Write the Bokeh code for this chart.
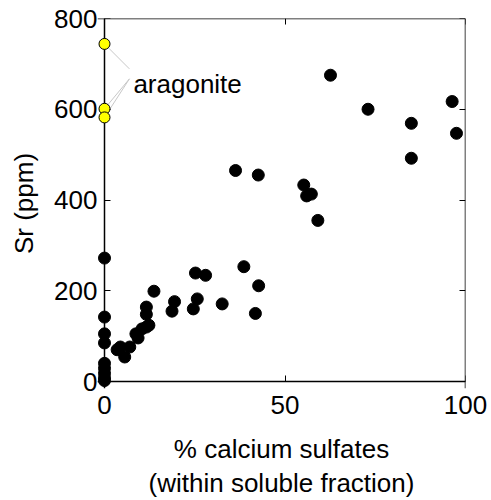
from bokeh.plotting import figure
from bokeh.models import Range1d, LinearAxis, FixedTicker
from bokeh.core.properties import value
from bokeh.embed import file_html
from bokeh.resources import INLINE

# data
sulfate_pct = [0, 0, 0, 0, 0, 0, 0, 0, 0,
               3.5, 4.4, 5.6, 7.0, 8.7, 9.3, 10.4, 11.6, 12.3, 11.6, 11.6, 13.7,
               18.7, 19.4, 24.6, 25.7, 25.2, 28.0, 32.6, 38.6, 41.8, 42.7,
               36.3, 42.6, 55.2, 56.0, 57.3, 59.1, 62.6, 73.0, 85.0, 85.0, 96.3, 97.5]
sr_ppm = [272, 142, 105, 85, 40, 29, 18, 8, 2,
          70, 76, 54, 76, 105, 96, 116, 120, 124, 164, 148, 199,
          155, 176, 160, 182, 239, 234, 171, 253, 150, 211,
          465, 455, 433, 409, 413, 355, 675, 600, 569, 492, 617, 547]
aragonite_pct = [0, 0, 0]
aragonite_sr = [744, 601, 582]
x_ticks = [0, 50, 100]
y_ticks = [0, 200, 400, 600, 800]
x_lo, x_hi = 0, 100
y_lo, y_hi = 0, 800
label_text = "aragonite"

# layout / style constants
BOX_W, BOX_H = 361, 363          # axes box in px
PAD = 7                          # extra frame room so markers on the axes are not clipped
LABEL_X, LABEL_Y = 8.0, 656
LEAD_X = 6.9
LEAD_Y_TOP, LEAD_Y_BOT = 689, 667

FONT = "Liberation Sans"
FS = "26px"

x_start = x_lo - PAD * (x_hi - x_lo) / BOX_W
y_start = y_lo - PAD * (y_hi - y_lo) / BOX_H

p = figure(frame_width=BOX_W + PAD, frame_height=BOX_H + PAD,
           output_backend="svg", toolbar_location=None,
           x_range=Range1d(x_start, x_hi), y_range=Range1d(y_start, y_hi),
           min_border_left=104 - PAD, min_border_right=26, min_border_top=18,
           min_border_bottom=500 - 18 - BOX_H - PAD,
           background_fill_color="white", border_fill_color="white")
p.grid.visible = False
p.outline_line_color = None


def tick_setup(ax, ticks):
    ax.ticker = FixedTicker(ticks=ticks)
    ax.minor_tick_line_color = None
    ax.major_label_text_font = FONT


def box_axis(ax, ticks):
    """Axis that draws the box edge and inward ticks, with no labels."""
    tick_setup(ax, ticks)
    ax.major_tick_in = 6
    ax.major_tick_out = 0
    ax.axis_line_color = "black"
    ax.axis_line_width = 1.5
    ax.major_tick_line_color = "black"
    ax.major_label_text_font_size = "2px"
    ax.major_label_text_color = None
    ax.major_label_standoff = 0


# default axes: only the tick labels and axis titles
xa = p.xaxis[0]
ya = p.yaxis[0]
for ax, ticks in ((xa, x_ticks), (ya, y_ticks)):
    tick_setup(ax, ticks)
    ax.axis_line_color = None
    ax.major_tick_line_color = None
    ax.major_tick_in = 0
    ax.major_tick_out = 0
    ax.major_label_text_font_size = FS
    ax.major_label_text_color = "black"
    ax.axis_label_text_font = FONT
    ax.axis_label_text_font_size = FS
    ax.axis_label_text_font_style = "normal"
    ax.axis_label_text_color = "black"
xa.major_label_standoff = 7
ya.major_label_standoff = 0
xa.axis_label = "% calcium sulfates\n(within soluble fraction)"
ya.axis_label = "Sr (ppm)"
xa.axis_label_text_line_height = 1.15
xa.axis_label_standoff = 17
ya.axis_label_standoff = 12

# box edges with inward ticks
left_box = LinearAxis(fixed_location=x_lo)
bottom_box = LinearAxis(fixed_location=y_lo)
top_box = LinearAxis(fixed_location=y_hi)
right_box = LinearAxis(fixed_location=x_hi)
box_axis(left_box, y_ticks)
box_axis(right_box, y_ticks)
box_axis(bottom_box, x_ticks)
box_axis(top_box, x_ticks)
p.add_layout(left_box, "left")
p.add_layout(bottom_box, "below")
p.add_layout(top_box, "above")
p.add_layout(right_box, "right")

# leader lines from the label to the aragonite points
lead_x0 = [LEAD_X] * len(aragonite_sr)
lead_y0 = [LEAD_Y_TOP] + [LEAD_Y_BOT] * (len(aragonite_sr) - 1)
p.segment(x0=lead_x0, y0=lead_y0, x1=aragonite_pct, y1=aragonite_sr,
          line_color="#c8c8c8", line_width=1)

p.scatter(sulfate_pct, sr_ppm, size=12, fill_color="black", line_color="black",
          level="overlay")
p.scatter(aragonite_pct, aragonite_sr, size=11, fill_color="#ffff00",
          line_color="black", line_width=1, level="overlay")

p.text(x=[LABEL_X], y=[LABEL_Y], text=[label_text], text_font=value(FONT),
       text_font_size=FS, text_baseline="alphabetic", text_align="left",
       text_color="black")

open("out.html", "w").write(file_html(p, INLINE))
